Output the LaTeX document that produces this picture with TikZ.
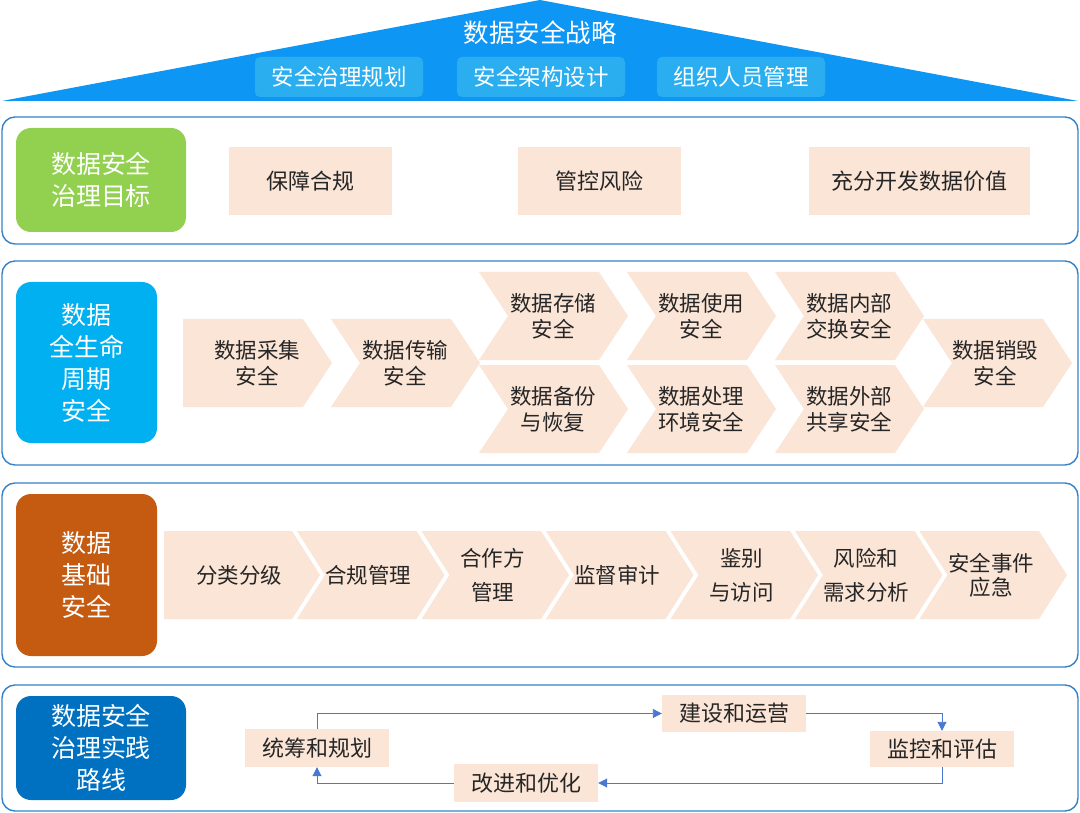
\documentclass[tikz,border=0pt]{standalone}
\usepackage{fontspec}
\setmainfont{Noto Sans CJK SC}
\usetikzlibrary{arrows.meta}
\definecolor{roofc}{HTML}{0E96F5}
\definecolor{roofbox}{HTML}{2AAEF0}
\definecolor{panelc}{HTML}{3583C9}
\definecolor{pinkc}{HTML}{FBE5D6}
\definecolor{greenc}{HTML}{92D050}
\definecolor{cyanc}{HTML}{00B0F0}
\definecolor{brownc}{HTML}{C55A11}
\definecolor{navyc}{HTML}{0070C0}
\definecolor{txtc}{HTML}{262626}
\definecolor{arrc}{HTML}{4A78D0}
\newcommand\chevshape[6]{% x0, ytop, h, tip offset, depth, notch
  \fill[pinkc] (#1,#2) -- (#1+#4-#5,#2) -- (#1+#4,#2+#3/2) -- (#1+#4-#5,#2+#3) -- (#1,#2+#3) -- (#1+#6,#2+#3/2) -- cycle;}
\begin{document}
\begin{tikzpicture}[x=1pt,y=-1pt,
  panel/.style={draw=panelc, line width=1.4pt, rounded corners=13pt, inner sep=0},
  lab/.style={rounded corners=15pt, text=white, font=\fontsize{25}{32}\selectfont, align=center, inner sep=0},
  pbox/.style={fill=pinkc, text=txtc, font=\fontsize{22}{26}\selectfont, align=center, inner sep=0},
  ctext/.style={text=txtc, font=\fontsize{21.5}{26}\selectfont, align=center, inner sep=0},
  roofsub/.style={fill=roofbox, rounded corners=5pt, text=white, font=\fontsize{22.5}{26}\selectfont, minimum width=168pt, minimum height=40pt, inner sep=0},
  flow/.style={draw=arrc, line width=0.9pt, -{Triangle[length=9pt,width=9pt]}}
]
\useasboundingbox (0,0) rectangle (1080,813);
\fill[white] (0,0) rectangle (1080,813);

% roof
\fill[roofc] (2,101) -- (540,0) -- (1078,101) -- cycle;
\node[text=white, font=\fontsize{25.5}{30}\selectfont, inner sep=0] (title) at (540,33) {数据安全战略};
\node[roofsub] (r1) at (339,77) {安全治理规划};
\node[roofsub] (r2) at (541,77) {安全架构设计};
\node[roofsub] (r3) at (741,77) {组织人员管理};

% row 1
\node[panel, minimum width=1076pt, minimum height=127pt] (p1) at (540,180.5) {};
\node[lab, fill=greenc, minimum width=170pt, minimum height=104pt] (l1) at (101,180) {数据安全\\治理目标};
\node[pbox, minimum width=163pt, minimum height=68pt] (g1) at (310.5,181) {保障合规};
\node[pbox, minimum width=163pt, minimum height=68pt] (g2) at (599.5,181) {管控风险};
\node[pbox, minimum width=221pt, minimum height=68pt] (g3) at (919.5,181) {充分开发数据价值};

% row 2
\node[panel, minimum width=1076pt, minimum height=204pt] (p2) at (540,363) {};
\node[lab, fill=cyanc, minimum width=141pt, minimum height=161pt] (l2) at (86.5,362.5) {数据\\全生命\\周期\\安全};
\chevshape{183}{319}{88}{149}{29}{0}
\node[ctext] (c1) at (257,363) {数据采集\\安全};
\chevshape{331}{319}{88}{149}{29}{29}
\node[ctext] (c2) at (405,363) {数据传输\\安全};
\chevshape{479}{272}{88}{149}{29}{29}
\node[ctext] (c3) at (553,316) {数据存储\\安全};
\chevshape{479}{365}{88}{149}{29}{29}
\node[ctext] (c4) at (553,409) {数据备份\\与恢复};
\chevshape{627}{272}{88}{149}{29}{29}
\node[ctext] (c5) at (701,316) {数据使用\\安全};
\chevshape{627}{365}{88}{149}{29}{29}
\node[ctext] (c6) at (701,409) {数据处理\\环境安全};
\chevshape{775}{272}{88}{149}{29}{29}
\node[ctext] (c7) at (849,316) {数据内部\\交换安全};
\chevshape{775}{365}{88}{149}{29}{29}
\node[ctext] (c8) at (849,409) {数据外部\\共享安全};
\chevshape{923}{319}{88}{149}{29}{29}
\node[ctext] (c9) at (995,363) {数据销毁\\安全};

% row 3
\node[panel, minimum width=1076pt, minimum height=184pt] (p3) at (540,575) {};
\node[lab, fill=brownc, minimum width=141pt, minimum height=162pt] (l3) at (86.5,575) {数据\\基础\\安全};
\chevshape{164}{531}{88}{156}{28}{0}
\node[ctext] (d1) at (239,575) {分类分级};
\chevshape{297}{531}{88}{147.5}{28}{28}
\node[ctext] (d2) at (368,575) {合规管理};
\chevshape{421.5}{531}{88}{147.5}{28}{28}
\node[ctext] (d3) at (492.5,575) {合作方\\[8pt]管理};
\chevshape{546}{531}{88}{147.5}{28}{28}
\node[ctext] (d4) at (617,575) {监督审计};
\chevshape{670.5}{531}{88}{147.5}{28}{28}
\node[ctext] (d5) at (741.5,575) {鉴别\\[8pt]与访问};
\chevshape{795}{531}{88}{147.5}{28}{28}
\node[ctext] (d6) at (866,575) {风险和\\[8pt]需求分析};
\chevshape{919.5}{531}{88}{147.5}{28}{28}
\node[ctext] (d7) at (991,575) {安全事件\\[-2pt]应急};

% row 4
\node[panel, minimum width=1076pt, minimum height=126pt] (p4) at (540,748) {};
\node[lab, fill=navyc, minimum width=170pt, minimum height=104pt] (l4) at (101,748) {数据安全\\治理实践\\路线};
\node[pbox, minimum width=144pt, minimum height=38pt] (s1) at (317,748) {统筹和规划};
\node[pbox, minimum width=144pt, minimum height=37pt] (s2) at (734,713.5) {建设和运营};
\node[pbox, minimum width=144pt, minimum height=36pt] (s3) at (942,749) {监控和评估};
\node[pbox, minimum width=144pt, minimum height=38pt] (s4) at (526,783) {改进和优化};
\draw[flow] (s1.north) |- (s2.west);
\draw[flow] (s2.east) -| (s3.north);
\draw[flow] (s3.south) |- (s4.east);
\draw[flow] (s4.west) -| (s1.south);
\end{tikzpicture}
\end{document}
